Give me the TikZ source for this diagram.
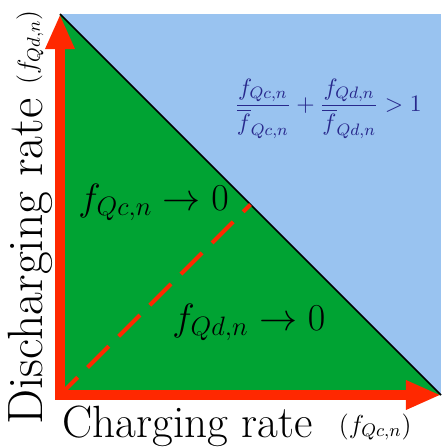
\RequirePackage{fix-cm}
\documentclass[tikz,border=0pt]{standalone}
\usepackage{amsmath}
\usetikzlibrary{arrows.meta,positioning,calc}

\definecolor{regiongreen}{RGB}{0,163,51}
\definecolor{regionblue}{RGB}{153,195,240}
\definecolor{axisred}{RGB}{255,40,0}
\definecolor{condblue}{RGB}{40,40,140}

\begin{document}
\begin{tikzpicture}[
    x=0.5pt, y=-0.5pt,
    axis/.style={draw=axisred, line width=5pt, line cap=rect, -{Triangle[length=17.5pt, width=13.5pt]}},
    limit/.style={draw=axisred, line width=2pt, dash pattern=on 15pt off 7pt, dash phase=2.5pt},
    axislabel/.style={inner sep=0pt, anchor=base west},
    unitlabel/.style={inner sep=0pt, anchor=base east, font=\fontsize{13}{16}\selectfont},
    zonelabel/.style={inner sep=0pt, anchor=base west, font=\fontsize{19}{23}\selectfont}
]
    \useasboundingbox (0,0) rectangle (443,447);

    % Corners
    \coordinate (origin) at (60,395);
    \coordinate (xtip) at (441,395);
    \coordinate (ytip) at (60,14);
    \coordinate (mid) at ($(ytip)!0.5!(xtip)$);

    % Regions
    \fill [regionblue] (ytip) rectangle (xtip);
    \fill [regiongreen] (ytip) -- (origin) -- (xtip) -- cycle;
    \draw [line width=0.75pt] (ytip) -- (xtip);

    % Limit line
    \draw [limit] (origin) -- (mid);

    % Axes
    \draw [axis] (origin) -- (xtip);
    \draw [axis] (origin) -- (ytip);

    % Labels
    \node (xlabel) [axislabel, font=\fontsize{22.6}{27}\selectfont] at (62,437) {Charging rate};
    \node (xunit) [unitlabel] at (412,433) {$(f_{Qc,n})$};
    \node (ylabel) [axislabel, rotate=90, font=\fontsize{24.8}{30}\selectfont] at (43,425) {Discharging rate};
    \node (yunit) [unitlabel, rotate=90] at (36,10) {$(f_{Qd,n})$};

    \node (czero) [zonelabel] at (78,210) {$f_{Qc,n}\rightarrow 0$};
    \node (dzero) [zonelabel] at (172,330) {$f_{Qd,n}\rightarrow 0$};

    \node (cond) [text=condblue, font=\fontsize{11.8}{14}\selectfont] at (328,109)
        {$\dfrac{f_{Qc,n}}{\overline{f}_{Qc,n}}+\dfrac{f_{Qd,n}}{\overline{f}_{Qd,n}}>1$};

\end{tikzpicture}
\end{document}
